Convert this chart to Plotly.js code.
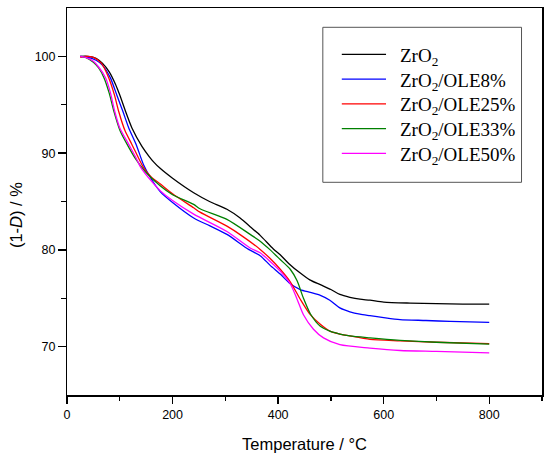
<!DOCTYPE html>
<html><head><meta charset="utf-8">
<script src="https://cdn.plot.ly/plotly-3.0.1.min.js"></script>
<style>html,body{margin:0;padding:0;background:#fff}#chart{width:550px;height:460px}</style>
</head><body><div id="chart"></div>
<script>
// Temperature (°C) and residual mass (1-D, %)
const seriesNames = ['ZrO<sub>2</sub>', 'ZrO<sub>2</sub>/OLE8%', 'ZrO<sub>2</sub>/OLE25%', 'ZrO<sub>2</sub>/OLE33%', 'ZrO<sub>2</sub>/OLE50%'];

const xZrO2 = [25, 40, 55, 67, 80, 92, 100, 111, 123, 142, 155, 164, 177, 200, 240, 270, 303, 328, 347, 366, 391, 404, 420, 442, 460, 480, 500, 517, 536, 555, 574, 600, 650, 700, 750, 800];
const yZrO2 = [100, 100, 99.8, 99.3, 98.4, 97.1, 96.0, 94.3, 92.6, 90.7, 89.7, 89.1, 88.4, 87.4, 85.9, 85.0, 84.2, 83.3, 82.4, 81.5, 80.1, 79.5, 78.6, 77.6, 76.9, 76.4, 75.9, 75.4, 75.1, 74.9, 74.8, 74.6, 74.5, 74.45, 74.4, 74.4];

const xOLE8 = [25, 40, 55, 67, 82, 95, 106, 117, 131, 145, 160, 177, 200, 240, 270, 303, 344, 366, 385, 404, 423, 442, 461, 480, 498, 517, 536, 555, 574, 600, 631, 680, 726, 800];
const yOLE8 = [100, 99.9, 99.6, 99.1, 97.8, 95.9, 94.3, 92.6, 90.9, 88.8, 87.3, 86.0, 84.9, 83.3, 82.5, 81.6, 80.05, 79.4, 78.4, 77.5, 76.5, 75.9, 75.6, 75.3, 74.8, 74.0, 73.6, 73.35, 73.2, 73.0, 72.8, 72.7, 72.6, 72.5];

const xOLE25 = [25, 35, 50, 65, 79, 90, 98, 110, 123, 145, 160, 177, 200, 240, 252, 303, 330, 366, 385, 404, 423, 442, 461, 480, 498, 517, 536, 574, 631, 700, 800];
const yOLE25 = [99.9, 100, 99.9, 99.3, 97.8, 96.0, 94.3, 92.3, 90.9, 88.5, 87.5, 86.8, 85.8, 84.35, 83.9, 82.45, 81.5, 80.05, 79.1, 78.0, 76.7, 74.9, 73.3, 72.3, 71.6, 71.3, 71.1, 70.75, 70.6, 70.45, 70.3];

const xOLE33 = [25, 35, 50, 60, 70, 80, 89, 100, 114, 130, 148, 177, 200, 240, 252, 303, 347, 366, 385, 404, 423, 436, 448, 461, 480, 498, 517, 536, 574, 631, 700, 800];
const yOLE33 = [100, 99.9, 99.4, 98.8, 97.8, 96.2, 94.3, 92.4, 90.9, 89.4, 88.1, 86.6, 85.7, 84.7, 84.25, 83.15, 81.6, 80.9, 80.0, 79.0, 78.0, 76.8, 75.0, 73.4, 72.1, 71.6, 71.3, 71.1, 70.9, 70.65, 70.45, 70.25];

const xOLE50 = [25, 35, 50, 60, 73, 82, 90.5, 100, 117, 130, 140, 160, 177, 200, 240, 303, 347, 366, 385, 404, 423, 436, 448, 467, 486, 517, 574, 631, 700, 800];
const yOLE50 = [100, 99.9, 99.5, 98.9, 97.8, 96.3, 94.3, 92.6, 90.9, 89.6, 88.5, 87.1, 86.1, 85.1, 83.7, 81.9, 80.2, 79.7, 78.8, 77.8, 76.5, 74.9, 73.3, 71.8, 70.9, 70.2, 69.85, 69.6, 69.5, 69.35];

const xTickVals = [0, 200, 400, 600, 800];
const yTickVals = [70, 80, 90, 100];

const xs = [xZrO2, xOLE8, xOLE25, xOLE33, xOLE50];
const ys = [yZrO2, yOLE8, yOLE25, yOLE33, yOLE50];
const colors = ['#000000', '#0000ff', '#ff0000', '#008000', '#ff00ff'];

const traces = xs.map((x, i) => ({
  x: x, y: ys[i], name: seriesNames[i], type: 'scatter', mode: 'lines',
  line: {color: colors[i], width: 1.3, shape: 'spline', smoothing: 0.7}
}));

// Plot-area geometry (px) used to place the legend box in paper coordinates
const PL = 66.5, PW = 475.7, PB = 395, PH = 387;
const px2x = p => (p - PL) / PW;
const px2y = p => (PB - p) / PH;

const shapes = [{
  type: 'rect', xref: 'paper', yref: 'paper',
  x0: px2x(322.7), x1: px2x(521.7), y0: px2y(182.3), y1: px2y(27.3),
  line: {color: '#555', width: 1}, fillcolor: 'rgba(0,0,0,0)'
}];
const annotations = [{
  text: '(1-<i>D</i>) / %', xref: 'paper', yref: 'paper', x: px2x(15.5), y: px2y(215),
  xanchor: 'center', yanchor: 'middle', textangle: -90, showarrow: false,
  font: {family: 'Liberation Sans, Arial, sans-serif', size: 16.5, color: '#000'}
}];
seriesNames.forEach((name, i) => {
  const rowY = 54.3 + i * 24.75;
  shapes.push({type: 'line', xref: 'paper', yref: 'paper',
    x0: px2x(341.7), x1: px2x(386), y0: px2y(rowY), y1: px2y(rowY),
    line: {color: colors[i], width: 1.3}});
  annotations.push({text: name, xref: 'paper', yref: 'paper',
    x: px2x(398), y: px2y(rowY + 2.5), xanchor: 'left', yanchor: 'middle', showarrow: false,
    font: {family: 'Liberation Serif, Times New Roman, serif', size: 19, color: '#000'}});
});

const tickFont = {family: 'Liberation Sans, Arial, sans-serif', size: 12.5, color: '#000'};
const layout = {
  width: 550, height: 460,
  margin: {l: 66.5, r: 7.8, t: 8, b: 65},
  paper_bgcolor: '#fff', plot_bgcolor: '#fff',
  showlegend: false,
  xaxis: {
    range: [0, 900], tickvals: xTickVals, ticks: 'outside', ticklen: 7.5, tickwidth: 1.3, tickcolor: '#000',
    minor: {tickvals: [100, 300, 500, 700, 900], ticks: 'outside', ticklen: 4.5, tickwidth: 1.3, tickcolor: '#000'},
    showline: true, linewidth: 1.5, linecolor: '#000', mirror: true,
    showgrid: false, zeroline: false, tickfont: tickFont, automargin: false,
    title: {text: 'Temperature / °C', font: {family: 'Liberation Sans, Arial, sans-serif', size: 16.5, color: '#000'}, standoff: 17}
  },
  yaxis: {
    range: [65, 105], tickvals: yTickVals, ticks: 'outside', ticklen: 7.5, tickwidth: 1.3, tickcolor: '#000',
    minor: {tickvals: [75, 85, 95], ticks: 'outside', ticklen: 4.5, tickwidth: 1.3, tickcolor: '#000'},
    showline: true, linewidth: 1.5, linecolor: '#000', mirror: true,
    showgrid: false, zeroline: false, tickfont: tickFont, automargin: false
  },
  shapes: shapes,
  annotations: annotations
};

Plotly.newPlot('chart', traces, layout, {displayModeBar: false, staticPlot: true});
</script></body></html>
